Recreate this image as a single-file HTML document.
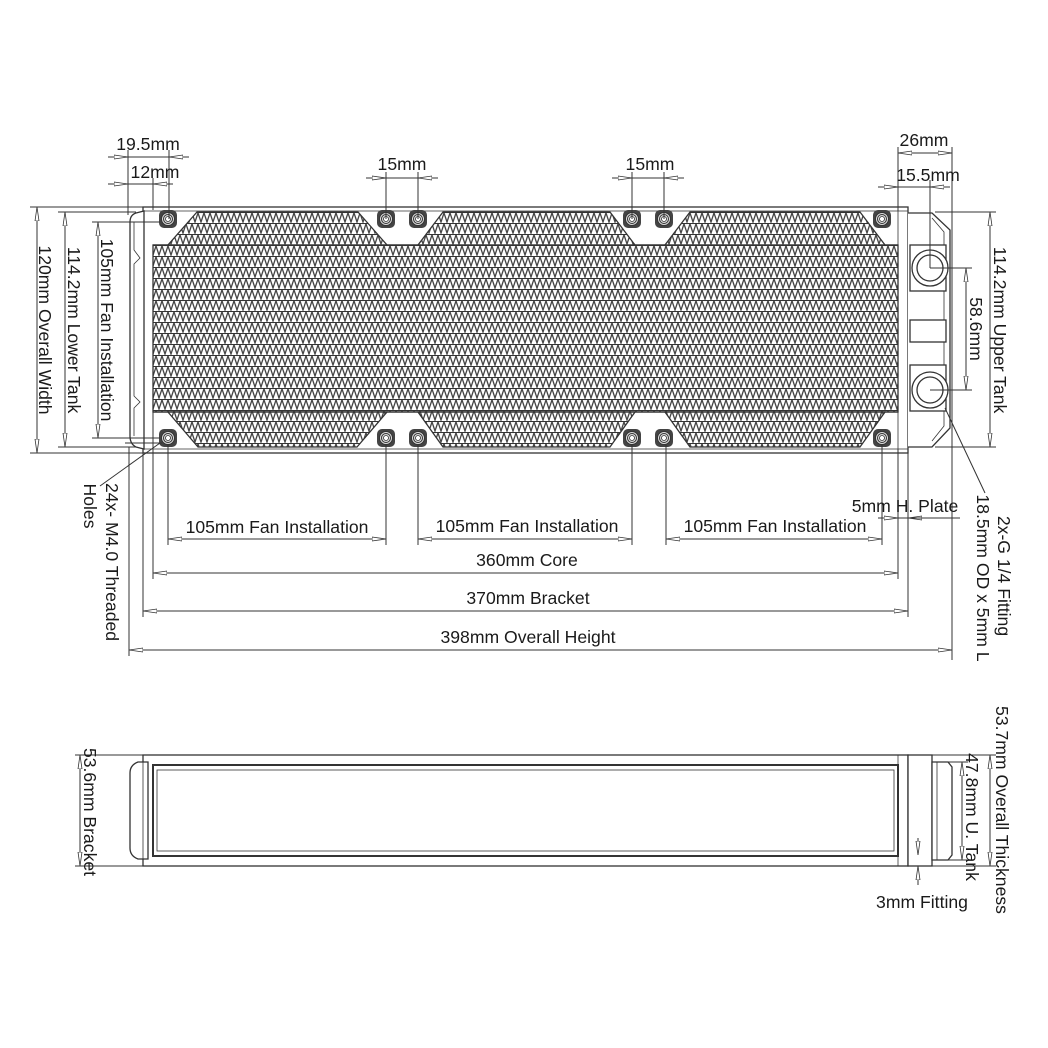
<!DOCTYPE html>
<html><head><meta charset="utf-8">
<style>
html,body{margin:0;padding:0;background:#fff;}
svg{display:block;}
text{font-family:"Liberation Sans",Arial,sans-serif;font-size:17.6px;fill:#1a1a1a;}
</style></head>
<body>
<svg width="1048" height="1048" viewBox="0 0 1048 1048" xmlns="http://www.w3.org/2000/svg">
<defs>
<pattern id="fin" width="6" height="11" patternUnits="userSpaceOnUse" x="0" y="245">
<rect width="6" height="11" fill="#fff"/>
<path d="M0,1 L3,10 L6,1" fill="none" stroke="#444" stroke-width="1.3"/>
<line x1="0" y1="0.5" x2="6" y2="0.5" stroke="#333" stroke-width="1.1"/>
</pattern>
<marker id="ar" markerWidth="14" markerHeight="6" refX="14" refY="3" orient="auto" markerUnits="userSpaceOnUse">
<path d="M0,1 L14,3 L0,5 Z" fill="#fff" stroke="#333" stroke-width="0.8"/>
</marker>
<g id="screw">
<rect x="-9" y="-9" width="18" height="18" rx="5" fill="#444"/>
<circle r="6.5" fill="#ddd" stroke="#333" stroke-width="1"/>
<circle r="4.5" fill="none" stroke="#333" stroke-width="1"/>
<circle r="2.5" fill="#fff" stroke="#333" stroke-width="0.8"/>
</g>
</defs>

<g stroke="#333" fill="none" stroke-width="1.3">
<rect x="143" y="207" width="765" height="246" fill="#fff"/>
<line x1="143" y1="211" x2="908" y2="211" stroke-width="0.8"/>
<line x1="143" y1="449" x2="908" y2="449" stroke-width="0.8"/>
<path d="M136,213 L144,211 L144,449 L136,447 Q130,444 130,436 L130,222 Q130,215 136,213 Z" fill="#fff"/>
<path d="M134,222 L134,250 L140,258 L134,264 L134,396 L140,402 L134,408 L134,436" stroke-width="0.8"/>
<rect x="153" y="245" width="745" height="167" fill="url(#fin)"/>
<path d="M197,212 L358,212 L387,245 L168,245 Z" fill="url(#fin)"/>
<path d="M443,212 L610,212 L635,245 L418,245 Z" fill="url(#fin)"/>
<path d="M690,212 L860,212 L885,245 L665,245 Z" fill="url(#fin)"/>
<path d="M168,412 L387,412 L357,447 L198,447 Z" fill="url(#fin)"/>
<path d="M418,412 L635,412 L610,447 L443,447 Z" fill="url(#fin)"/>
<path d="M665,412 L885,412 L860,447 L690,447 Z" fill="url(#fin)"/>
<line x1="153" y1="245" x2="898" y2="245"/>
<line x1="153" y1="412" x2="898" y2="412"/>
<line x1="898" y1="211" x2="898" y2="449" stroke-width="0.8"/>
<path d="M908,213 L932,213 L950,230 L950,428 L932,447 L908,447" fill="#fff"/>
<path d="M932,218 L944,232 L944,426 L932,441" stroke-width="0.8"/>
<rect x="910" y="245" width="36" height="46" fill="#fff"/>
<rect x="910" y="320" width="36" height="22" fill="#fff"/>
<rect x="910" y="365" width="36" height="46" fill="#fff"/>
<circle cx="930" cy="268" r="18" fill="#fff"/>
<circle cx="930" cy="268" r="13" fill="#fff"/>
<circle cx="930" cy="390" r="18" fill="#fff"/>
<circle cx="930" cy="390" r="13" fill="#fff"/>
</g>
<use href="#screw" x="168" y="219"/><use href="#screw" x="386" y="219"/><use href="#screw" x="418" y="219"/>
<use href="#screw" x="632" y="219"/><use href="#screw" x="664" y="219"/><use href="#screw" x="882" y="219"/>
<use href="#screw" x="168" y="438"/><use href="#screw" x="386" y="438"/><use href="#screw" x="418" y="438"/>
<use href="#screw" x="632" y="438"/><use href="#screw" x="664" y="438"/><use href="#screw" x="882" y="438"/>

<g stroke="#333" stroke-width="1" fill="none">
<line x1="128" y1="150" x2="128" y2="215"/>
<line x1="169" y1="150" x2="169" y2="219"/>
<line x1="153" y1="178" x2="153" y2="210"/>
<line x1="386" y1="172" x2="386" y2="219"/>
<line x1="418" y1="172" x2="418" y2="219"/>
<line x1="632" y1="172" x2="632" y2="219"/>
<line x1="664" y1="172" x2="664" y2="219"/>
<line x1="898" y1="147" x2="898" y2="211"/>
<line x1="952" y1="147" x2="952" y2="660"/>
<line x1="930" y1="180" x2="930" y2="268"/>
<line x1="108" y1="157" x2="128" y2="157" marker-end="url(#ar)"/>
<line x1="189" y1="157" x2="169" y2="157" marker-end="url(#ar)"/>
<line x1="128" y1="157" x2="169" y2="157"/>
<line x1="108" y1="184" x2="128" y2="184" marker-end="url(#ar)"/>
<line x1="173" y1="184" x2="153" y2="184" marker-end="url(#ar)"/>
<line x1="128" y1="184" x2="153" y2="184"/>
<line x1="366" y1="178" x2="386" y2="178" marker-end="url(#ar)"/>
<line x1="438" y1="178" x2="418" y2="178" marker-end="url(#ar)"/>
<line x1="386" y1="178" x2="418" y2="178"/>
<line x1="612" y1="178" x2="632" y2="178" marker-end="url(#ar)"/>
<line x1="684" y1="178" x2="664" y2="178" marker-end="url(#ar)"/>
<line x1="632" y1="178" x2="664" y2="178"/>
<line x1="925" y1="153" x2="898" y2="153" marker-end="url(#ar)"/>
<line x1="925" y1="153" x2="952" y2="153" marker-end="url(#ar)"/>
<line x1="878" y1="187" x2="898" y2="187" marker-end="url(#ar)"/>
<line x1="950" y1="187" x2="930" y2="187" marker-end="url(#ar)"/>
<line x1="898" y1="187" x2="930" y2="187"/>
<line x1="30" y1="207" x2="143" y2="207"/>
<line x1="30" y1="453" x2="143" y2="453"/>
<line x1="37" y1="330" x2="37" y2="207" marker-end="url(#ar)"/>
<line x1="37" y1="330" x2="37" y2="453" marker-end="url(#ar)"/>
<line x1="58" y1="212" x2="136" y2="212"/>
<line x1="58" y1="447" x2="136" y2="447"/>
<line x1="65" y1="330" x2="65" y2="212" marker-end="url(#ar)"/>
<line x1="65" y1="330" x2="65" y2="447" marker-end="url(#ar)"/>
<line x1="92" y1="222" x2="160" y2="222"/>
<line x1="92" y1="438" x2="160" y2="438"/>
<line x1="98" y1="330" x2="98" y2="222" marker-end="url(#ar)"/>
<line x1="98" y1="330" x2="98" y2="438" marker-end="url(#ar)"/>
<line x1="935" y1="212" x2="996" y2="212"/>
<line x1="935" y1="447" x2="996" y2="447"/>
<line x1="990" y1="330" x2="990" y2="212" marker-end="url(#ar)"/>
<line x1="990" y1="330" x2="990" y2="447" marker-end="url(#ar)"/>
<line x1="930" y1="268" x2="972" y2="268"/>
<line x1="930" y1="390" x2="972" y2="390"/>
<line x1="966" y1="330" x2="966" y2="268" marker-end="url(#ar)"/>
<line x1="966" y1="330" x2="966" y2="390" marker-end="url(#ar)"/>
<line x1="945" y1="408" x2="985" y2="493"/>
<line x1="160" y1="443" x2="100" y2="486"/>
<line x1="125" y1="443" x2="162" y2="443"/>
<line x1="129" y1="447" x2="129" y2="656"/>
<line x1="143" y1="453" x2="143" y2="617"/>
<line x1="153" y1="412" x2="153" y2="579"/>
<line x1="168" y1="445" x2="168" y2="545"/>
<line x1="386" y1="445" x2="386" y2="545"/>
<line x1="418" y1="445" x2="418" y2="545"/>
<line x1="632" y1="445" x2="632" y2="545"/>
<line x1="666" y1="445" x2="666" y2="545"/>
<line x1="882" y1="445" x2="882" y2="545"/>
<line x1="898" y1="449" x2="898" y2="579"/>
<line x1="908" y1="453" x2="908" y2="617"/>
<line x1="277" y1="539" x2="168" y2="539" marker-end="url(#ar)"/><line x1="277" y1="539" x2="386" y2="539" marker-end="url(#ar)"/>
<line x1="525" y1="539" x2="418" y2="539" marker-end="url(#ar)"/><line x1="525" y1="539" x2="632" y2="539" marker-end="url(#ar)"/>
<line x1="774" y1="539" x2="666" y2="539" marker-end="url(#ar)"/><line x1="774" y1="539" x2="882" y2="539" marker-end="url(#ar)"/>
<line x1="525" y1="573" x2="153" y2="573" marker-end="url(#ar)"/><line x1="525" y1="573" x2="898" y2="573" marker-end="url(#ar)"/>
<line x1="525" y1="611" x2="143" y2="611" marker-end="url(#ar)"/><line x1="525" y1="611" x2="908" y2="611" marker-end="url(#ar)"/>
<line x1="540" y1="650" x2="129" y2="650" marker-end="url(#ar)"/><line x1="540" y1="650" x2="952" y2="650" marker-end="url(#ar)"/>
<line x1="878" y1="518" x2="898" y2="518" marker-end="url(#ar)"/>
<line x1="930" y1="518" x2="908" y2="518" marker-end="url(#ar)"/>
<line x1="898" y1="518" x2="960" y2="518"/>
</g>

<g stroke="#333" fill="none" stroke-width="1.3">
<rect x="143" y="755" width="765" height="111" fill="#fff"/>
<rect x="153" y="765" width="745" height="91" stroke-width="2"/>
<rect x="157" y="770" width="737" height="81" stroke-width="0.8"/>
<path d="M138,762 L148,762 L148,859 L138,859 Q130,856 130,848 L130,773 Q130,765 138,762 Z" fill="#fff"/>
<line x1="143" y1="762" x2="143" y2="859" stroke-width="0.8"/>
<rect x="908" y="755" width="24" height="111" fill="#fff"/>
<path d="M932,762 L948,762 L952,767 L952,855 L948,860 L932,860 Z" fill="#fff"/>
<line x1="937" y1="762" x2="937" y2="860" stroke-width="0.8"/>
<line x1="898" y1="755" x2="898" y2="866" stroke-width="0.8"/>
</g>
<g stroke="#333" stroke-width="1" fill="none">
<line x1="75" y1="755" x2="143" y2="755"/><line x1="75" y1="866" x2="143" y2="866"/>
<line x1="80" y1="810" x2="80" y2="755" marker-end="url(#ar)"/><line x1="80" y1="810" x2="80" y2="866" marker-end="url(#ar)"/>
<line x1="910" y1="755" x2="996" y2="755"/><line x1="910" y1="866" x2="996" y2="866"/>
<line x1="990" y1="810" x2="990" y2="755" marker-end="url(#ar)"/><line x1="990" y1="810" x2="990" y2="866" marker-end="url(#ar)"/>
<line x1="948" y1="762" x2="968" y2="762"/><line x1="948" y1="860" x2="968" y2="860"/>
<line x1="962" y1="810" x2="962" y2="762" marker-end="url(#ar)"/><line x1="962" y1="810" x2="962" y2="860" marker-end="url(#ar)"/>
<line x1="918" y1="838" x2="918" y2="855" marker-end="url(#ar)"/>
<line x1="918" y1="885" x2="918" y2="866" marker-end="url(#ar)"/>
</g>

<text x="148" y="150" text-anchor="middle">19.5mm</text>
<text x="155" y="178" text-anchor="middle">12mm</text>
<text x="402" y="170" text-anchor="middle">15mm</text>
<text x="650" y="170" text-anchor="middle">15mm</text>
<text x="924" y="146" text-anchor="middle">26mm</text>
<text x="928" y="181" text-anchor="middle">15.5mm</text>
<text x="277" y="533" text-anchor="middle">105mm Fan Installation</text>
<text x="527" y="532" text-anchor="middle">105mm Fan Installation</text>
<text x="775" y="532" text-anchor="middle">105mm Fan Installation</text>
<text x="527" y="566" text-anchor="middle">360mm Core</text>
<text x="528" y="604" text-anchor="middle">370mm Bracket</text>
<text x="528" y="643" text-anchor="middle">398mm Overall Height</text>
<text x="905" y="512" text-anchor="middle">5mm H. Plate</text>
<text x="922" y="908" text-anchor="middle">3mm Fitting</text>
<text transform="translate(39,330) rotate(90)" text-anchor="middle">120mm Overall Width</text>
<text transform="translate(68,330) rotate(90)" text-anchor="middle">114.2mm Lower Tank</text>
<text transform="translate(101,330) rotate(90)" text-anchor="middle">105mm Fan Installation</text>
<text transform="translate(994,330) rotate(90)" text-anchor="middle">114.2mm Upper Tank</text>
<text transform="translate(970,329) rotate(90)" text-anchor="middle">58.6mm</text>
<text transform="translate(998,576) rotate(90)" text-anchor="middle">2x-G 1/4 Fitting</text>
<text transform="translate(977,578) rotate(90)" text-anchor="middle">18.5mm OD x 5mm L</text>
<text transform="translate(106,562) rotate(90)" text-anchor="middle">24x- M4.0 Threaded</text>
<text transform="translate(84,506) rotate(90)" text-anchor="middle">Holes</text>
<text transform="translate(84,812) rotate(90)" text-anchor="middle">53.6mm Bracket</text>
<text transform="translate(996,810) rotate(90)" text-anchor="middle">53.7mm Overall Thickness</text>
<text transform="translate(966,817) rotate(90)" text-anchor="middle">47.8mm U. Tank</text>
</svg>
</body></html>
